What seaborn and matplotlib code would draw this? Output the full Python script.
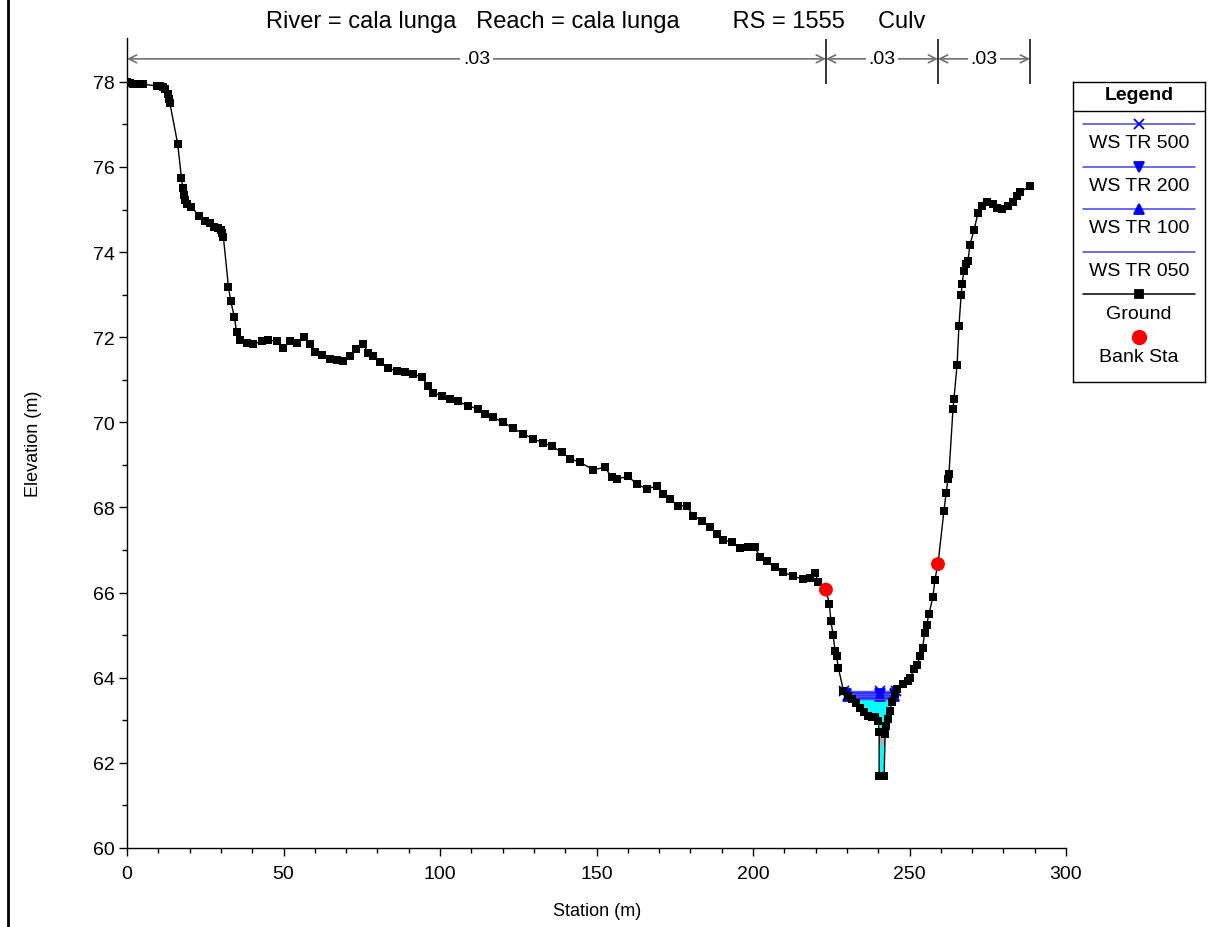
import numpy as np
import pandas as pd
import matplotlib
matplotlib.use("Agg")
import matplotlib.pyplot as plt
import seaborn as sns
from matplotlib.lines import Line2D
from matplotlib.ticker import MultipleLocator

# ---------------- data ----------------
station = [0.0, 1.0, 2.0, 3.0, 4.0, 5.0, 9.5, 10.5, 11.5, 12.3, 13.0, 13.5, 13.7,
           16.2, 17.4, 17.8, 18.2, 18.6, 19.3, 20.6, 23.0, 25.0, 26.5, 27.8, 29.0,
           30.0, 30.5, 30.8, 32.4, 33.1, 34.3, 35.0, 36.1, 38.2, 40.4, 43.0, 45.1,
           47.8, 49.7, 52.1, 54.2, 56.5, 58.5, 60.1, 62.2, 64.9, 67.0, 69.1, 71.2,
           73.2, 75.3, 77.1, 78.7, 80.8, 83.5, 86.2, 88.8, 91.5, 94.1, 96.3, 97.9,
           100.5, 103.2, 105.8, 109.0, 112.2, 114.4, 117.0, 120.2, 123.4, 126.6,
           129.8, 133.0, 135.7, 138.9, 141.5, 144.7, 149.0, 152.7, 154.9, 156.5,
           160.2, 162.8, 166.0, 169.2, 171.3, 173.5, 176.1, 178.8, 180.9, 183.6,
           186.3, 188.4, 190.5, 193.2, 195.8, 198.5, 200.6, 202.2, 204.4, 207.0,
           209.7, 212.9, 216.1, 218.2, 219.8, 220.9, 223.3, 224.4, 224.9, 225.6,
           226.2, 226.7, 227.3, 228.9, 230.3, 231.6, 233.0, 234.2, 235.5, 236.9,
           238.1, 239.0, 240.0, 240.3, 240.3, 241.9, 242.2, 242.5, 243.2, 243.8,
           244.4, 245.4, 246.0, 247.9, 249.5, 250.2, 251.5, 252.4, 253.4, 254.2,
           254.8, 255.5, 256.2, 257.5, 258.1, 259.1, 261.0, 261.7, 262.3, 262.6,
           263.9, 264.2, 265.2, 265.8, 266.5, 266.8, 267.4, 268.1, 268.7, 269.3,
           270.6, 271.9, 273.2, 274.8, 276.7, 278.0, 279.6, 281.5, 283.1, 284.3,
           285.3, 288.5]
elevation = [78.00, 77.98, 77.96, 77.95, 77.96, 77.95, 77.90, 77.90, 77.88, 77.83,
             77.72, 77.60, 77.50, 76.54, 75.74, 75.50, 75.35, 75.22, 75.14, 75.07,
             74.84, 74.72, 74.68, 74.60, 74.57, 74.53, 74.45, 74.35, 73.19, 72.86,
             72.48, 72.12, 71.94, 71.87, 71.84, 71.90, 71.94, 71.90, 71.74, 71.92,
             71.86, 72.00, 71.84, 71.65, 71.58, 71.50, 71.47, 71.45, 71.56, 71.72,
             71.85, 71.64, 71.55, 71.41, 71.27, 71.21, 71.19, 71.14, 71.06, 70.86,
             70.69, 70.63, 70.55, 70.49, 70.39, 70.31, 70.20, 70.12, 70.00, 69.86,
             69.73, 69.61, 69.52, 69.44, 69.30, 69.15, 69.06, 68.89, 68.94, 68.71,
             68.67, 68.73, 68.55, 68.44, 68.50, 68.32, 68.20, 68.04, 68.04, 67.81,
             67.69, 67.53, 67.38, 67.24, 67.18, 67.04, 67.06, 67.08, 66.83, 66.75,
             66.60, 66.48, 66.38, 66.32, 66.34, 66.46, 66.24, 66.07, 65.73, 65.33,
             65.00, 64.63, 64.50, 64.22, 63.70, 63.58, 63.50, 63.40, 63.30, 63.20,
             63.10, 63.08, 63.07, 62.98, 62.73, 61.69, 61.69, 62.68, 62.87, 63.03,
             63.22, 63.43, 63.62, 63.74, 63.85, 63.92, 64.00, 64.20, 64.30, 64.50,
             64.70, 65.05, 65.24, 65.50, 65.90, 66.30, 66.67, 67.92, 68.34, 68.67,
             68.79, 70.32, 70.55, 71.35, 72.27, 73.00, 73.25, 73.56, 73.72, 73.80,
             74.17, 74.52, 74.92, 75.08, 75.18, 75.13, 75.04, 75.01, 75.08, 75.18,
             75.32, 75.41, 75.55]

bank_station = [223.3, 259.1]
bank_elev = [66.07, 66.67]

ws_profiles = ["WS TR 500", "WS TR 200", "WS TR 100", "WS TR 050"]
ws_elev = [63.68, 63.62, 63.57, 63.51]
ws_markers = ["x", "v", "^", None]
thalweg_station = 240.6

n_breaks = [0.0, 223.3, 259.1, 288.5]
n_values = [".03", ".03", ".03"]

title_text = "River = cala lunga   Reach = cala lunga        RS = 1555     Culv"

# ---------------- style ----------------
W, H = 1214, 928
sns.set_theme(style="ticks")
plt.rcParams["font.family"] = ["Liberation Sans", "DejaVu Sans"]

fig = plt.figure(figsize=(W / 100, H / 100), dpi=100)
ax = fig.add_axes([127 / W, 1 - 849 / H, (1066 - 127) / W, (849 - 39) / H])

st = np.array(station)
el = np.array(elevation)


def ws_extent(level):
    # left / right intersections of a level with the ground around the thalweg
    imin = int(np.argmin(el))
    left = None
    for i in range(imin, 0, -1):
        if el[i - 1] >= level >= el[i]:
            left = st[i - 1] + (level - el[i - 1]) * (st[i] - st[i - 1]) / (el[i] - el[i - 1])
            break
    right = None
    for i in range(imin, len(st) - 1):
        if el[i] <= level <= el[i + 1]:
            right = st[i] + (level - el[i]) * (st[i + 1] - st[i]) / (el[i + 1] - el[i])
            break
    return left, right


lo_l, lo_r = ws_extent(ws_elev[-1])
hi_l, hi_r = ws_extent(ws_elev[0])

mask_lo = (st >= lo_l - 0.01) & (st <= lo_r + 0.01)
xs = np.concatenate([[lo_l], st[mask_lo], [lo_r]])
gs = np.concatenate([[ws_elev[-1]], np.minimum(el[mask_lo], ws_elev[-1]), [ws_elev[-1]]])
ax.fill_between(xs, gs, ws_elev[-1], color="#00ffff", lw=0, zorder=2)

mask_hi = (st >= hi_l - 0.01) & (st <= hi_r + 0.01)
xh = np.concatenate([[hi_l], st[mask_hi], [hi_r]])
gh = np.concatenate([[ws_elev[0]], np.clip(el[mask_hi], ws_elev[-1], ws_elev[0]), [ws_elev[0]]])
ax.fill_between(xh, gh, ws_elev[0], color="#2a2aff", lw=0, zorder=2)

# slot (culvert) grey
ax.fill_between([240.35, 241.85], 62.42, 62.72, color="#b0b0b0", lw=0, zorder=2.5)

# WS lines
for name, lvl, mk in zip(ws_profiles, ws_elev, ws_markers):
    l, r = ws_extent(lvl)
    wdf = pd.DataFrame({"x": [l, thalweg_station, r], "y": [lvl] * 3})
    sns.lineplot(data=wdf, x="x", y="y", ax=ax, color="#5050ff", lw=1.0,
                 marker=mk if mk else None, markersize=7, markeredgewidth=1.3,
                 markeredgecolor="blue", markerfacecolor="blue",
                 sort=False, estimator=None, zorder=4)

# ground
gdf = pd.DataFrame({"station": station, "elevation": elevation})
sns.lineplot(data=gdf, x="station", y="elevation", ax=ax, color="black", lw=1.0,
             marker="s", markersize=6.4, markeredgewidth=0, markerfacecolor="black",
             sort=False, estimator=None, zorder=5)

# bank stations
bdf = pd.DataFrame({"s": bank_station, "e": bank_elev})
sns.scatterplot(data=bdf, x="s", y="e", ax=ax, color="#ff0000", s=100,
                edgecolor="none", zorder=6)

# axes limits / ticks
ax.set_xlim(0, 300)
ax.set_ylim(60, 79.03)
ax.xaxis.set_major_locator(MultipleLocator(50))
ax.xaxis.set_minor_locator(MultipleLocator(10))
ax.set_yticks(np.arange(60, 79, 2))
ax.set_yticks(np.arange(61, 78, 2), minor=True)
ax.tick_params(which="major", direction="out", length=6, width=1, color="black",
               labelsize=14, labelcolor="black")
ax.tick_params(axis="x", which="major", pad=6)
ax.tick_params(axis="y", which="major", pad=3)
ax.tick_params(which="minor", direction="out", length=3.5, width=1, color="black")
for s in ["top", "right"]:
    ax.spines[s].set_visible(False)
for s in ["left", "bottom"]:
    ax.spines[s].set_color("black")
    ax.spines[s].set_linewidth(1)
ax.set_facecolor("white")
ax.grid(False)
ax.set_xlabel("Station (m)", fontsize=13, color="black")
ax.set_ylabel("Elevation (m)", fontsize=13, color="black")
ax.xaxis.set_label_coords((597 - 127) / (1066 - 127), -(903 - 849) / (849 - 39))
ax.yaxis.set_label_coords(-(127 - 42) / (1066 - 127), 0.5)

# n-value annotations
y_ann = 78.54
for i, nv in enumerate(n_values):
    a, b = n_breaks[i], n_breaks[i + 1]
    ax.annotate("", xy=(a, y_ann), xytext=(b, y_ann),
                arrowprops=dict(arrowstyle="<->", color="#707070", lw=1.2,
                                shrinkA=0, shrinkB=0, mutation_scale=14),
                zorder=3)
    ax.text((a + b) / 2, y_ann, nv, ha="center", va="center", fontsize=14,
            color="black", zorder=7,
            bbox=dict(facecolor="white", edgecolor="none", pad=2))
ax.vlines(n_breaks[1:], 77.96, 79.0, colors="black", lw=1.1, zorder=3)

# title
fig.text(596 / W, 1 - 22 / H, title_text, ha="center", va="center", fontsize=17, color="black")

# legend box (custom, HEC-RAS style)
leg = fig.add_axes([1073 / W, 1 - 383 / H, 132 / W, 300 / H])
leg.set_xlim(0, 132)
leg.set_ylim(300, 0)
leg.set_xticks([])
leg.set_yticks([])
for s in leg.spines.values():
    s.set_color("black")
    s.set_linewidth(1)
    s.set_visible(True)
leg.set_facecolor("white")
leg.text(66, 13, "Legend", ha="center", va="center", fontsize=14, fontweight="bold", color="black")
leg.plot([0, 132], [29, 29], color="black", lw=1)
line_y = [42, 84.7, 127, 169.7, 212]
label_y = [60.3, 103.7, 145.3, 188.7, 231.3]
entries = list(zip(ws_profiles, ws_markers, ["#4040ff"] * 4)) + [("Ground", "s", "black")]
for (lab, mk, col), ly, ty in zip(entries, line_y, label_y):
    leg.plot([10, 122], [ly, ly], color=col, lw=1.1)
    if mk is not None:
        mcol = "blue" if col != "black" else "black"
        leg.plot([66], [ly], marker=mk, color=mcol, markersize=7 if mk != "s" else 6.4,
                 markeredgewidth=1.3, linestyle="none")
    leg.text(66, ty, lab, ha="center", va="center", fontsize=14, color="black")
leg.plot([66], [255.3], marker="o", color="#ff0000", markersize=10, linestyle="none")
leg.text(66, 274.7, "Bank Sta", ha="center", va="center", fontsize=14, color="black")

# left frame line of the window
fig.add_artist(Line2D([8 / W, 8 / W], [0, 1], color="black", lw=2))

fig.savefig("out.png", dpi=100, facecolor="white")
